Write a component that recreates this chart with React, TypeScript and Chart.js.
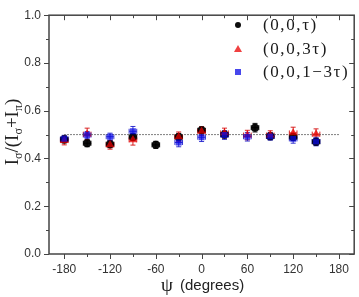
import React, { useEffect, useRef } from "react";
import { Chart, registerables } from "chart.js";
Chart.register(...registerables);

// ---- data ----
const tauPsi = [-180, -150, -120, -90, -60, -30, 0, 30, 70, 90, 120, 150];
const tauVals = [0.48, 0.464, 0.46, 0.49, 0.457, 0.49, 0.518, 0.5, 0.529, 0.493, 0.49, 0.47];
const tauErr = [0.015, 0.015, 0.015, 0.015, 0.015, 0.015, 0.015, 0.015, 0.018, 0.015, 0.015, 0.015];

const tau3Psi = [-180, -150, -120, -90, -30, 0, 30, 60, 90, 120, 150];
const tau3Vals = [0.475, 0.502, 0.457, 0.478, 0.491, 0.514, 0.507, 0.498, 0.498, 0.507, 0.502];
const tau3Err = [0.018, 0.025, 0.018, 0.022, 0.02, 0.018, 0.02, 0.02, 0.018, 0.024, 0.022];

const tau13Psi = [-180, -150, -120, -90, -30, 0, 30, 60, 90, 120, 150];
const tau13Vals = [0.482, 0.498, 0.491, 0.514, 0.467, 0.489, 0.498, 0.491, 0.492, 0.482, 0.471];
const tau13Err = [0.015, 0.015, 0.015, 0.02, 0.018, 0.018, 0.018, 0.018, 0.015, 0.018, 0.018];

const psiErr = 5;

const refPsi = [-180, 180];
const refVals = [0.5, 0.5];

const xTicks = [-180, -120, -60, 0, 60, 120, 180];
const xMinor = [-150, -90, -30, 30, 90, 150];
const yTicks = [0, 0.2, 0.4, 0.6, 0.8, 1.0];
const yMinor = [0.1, 0.3, 0.5, 0.7, 0.9];

const legendLabels = ["(0,0,\u03c4)", "(0,0,3\u03c4)", "(0,0,1\u22123\u03c4)"];

const BLACK = "rgba(0,0,0,0.95)";
const RED = "rgba(235,0,0,0.75)";
const BLUE = "rgba(10,10,230,0.75)";

function zip(xs: number[], ys: number[]) {
  return xs.map((x, i) => ({ x, y: ys[i] }));
}

const series = [
  { psi: tauPsi, vals: tauVals, err: tauErr, color: BLACK, bar: "#111" },
  { psi: tau3Psi, vals: tau3Vals, err: tau3Err, color: RED, bar: "rgba(210,0,0,0.85)" },
  { psi: tau13Psi, vals: tau13Vals, err: tau13Err, color: BLUE, bar: "rgba(20,20,200,0.85)" },
];

const decorPlugin = {
  id: "decor",
  beforeDatasetsDraw(chart: any) {
    const { ctx, scales } = chart;
    const xs = scales.x;
    const ys = scales.y;
    ctx.save();
    ctx.lineWidth = 1;
    series.forEach((s) => {
      ctx.strokeStyle = s.bar;
      s.psi.forEach((p, i) => {
        const px = xs.getPixelForValue(p);
        const py = ys.getPixelForValue(s.vals[i]);
        const y1 = ys.getPixelForValue(s.vals[i] + s.err[i]);
        const y2 = ys.getPixelForValue(s.vals[i] - s.err[i]);
        const x1 = xs.getPixelForValue(p - psiErr);
        const x2 = xs.getPixelForValue(p + psiErr);
        ctx.beginPath();
        ctx.moveTo(px, y1);
        ctx.lineTo(px, y2);
        ctx.moveTo(px - 2.5, y1);
        ctx.lineTo(px + 2.5, y1);
        ctx.moveTo(px - 2.5, y2);
        ctx.lineTo(px + 2.5, y2);
        ctx.moveTo(x1, py);
        ctx.lineTo(x2, py);
        ctx.moveTo(x1, py - 2.5);
        ctx.lineTo(x1, py + 2.5);
        ctx.moveTo(x2, py - 2.5);
        ctx.lineTo(x2, py + 2.5);
        ctx.stroke();
      });
    });
    ctx.restore();
  },
  afterDraw(chart: any) {
    const { ctx, chartArea, scales } = chart;
    const { left, right, top, bottom } = chartArea;
    const xs = scales.x;
    const ys = scales.y;
    ctx.save();
    ctx.strokeStyle = "#444";
    ctx.lineWidth = 1.5;
    ctx.strokeRect(left, top, right - left, bottom - top);
    ctx.lineWidth = 1;
    ctx.beginPath();
    yTicks.forEach((v) => {
      const y = Math.round(ys.getPixelForValue(v)) + 0.5;
      ctx.moveTo(left - 5, y);
      ctx.lineTo(left, y);
      ctx.moveTo(right, y);
      ctx.lineTo(right - 5, y);
    });
    yMinor.forEach((v) => {
      const y = Math.round(ys.getPixelForValue(v)) + 0.5;
      ctx.moveTo(left - 3, y);
      ctx.lineTo(left, y);
      ctx.moveTo(right, y);
      ctx.lineTo(right - 3, y);
    });
    xTicks.forEach((v) => {
      const x = Math.round(xs.getPixelForValue(v)) + 0.5;
      ctx.moveTo(x, bottom);
      ctx.lineTo(x, bottom + 5);
      ctx.moveTo(x, top);
      ctx.lineTo(x, top + 5);
    });
    xMinor.forEach((v) => {
      const x = Math.round(xs.getPixelForValue(v)) + 0.5;
      ctx.moveTo(x, bottom);
      ctx.lineTo(x, bottom + 3);
      ctx.moveTo(x, top);
      ctx.lineTo(x, top + 3);
    });
    ctx.stroke();

    // legend
    const lx = 238;
    const rows = [25, 49, 72];
    series.forEach((s, i) => {
      const y = rows[i];
      ctx.fillStyle = s.color;
      ctx.beginPath();
      if (i === 0) {
        ctx.arc(lx, y, 3, 0, Math.PI * 2);
      } else if (i === 1) {
        ctx.moveTo(lx, y - 4);
        ctx.lineTo(lx + 4, y + 3);
        ctx.lineTo(lx - 4, y + 3);
        ctx.closePath();
      } else {
        ctx.rect(lx - 3, y - 3, 6, 6);
      }
      ctx.fill();
      ctx.fillStyle = "#1a1a1a";
      ctx.font = '17px "Liberation Serif", "DejaVu Serif", serif';
      (ctx as any).letterSpacing = "1.6px";
      ctx.textBaseline = "middle";
      ctx.textAlign = "left";
      ctx.fillText(legendLabels[i], 263, y + 1);
    });
    (ctx as any).letterSpacing = "0px";

    // x title
    ctx.fillStyle = "#222";
    ctx.textBaseline = "alphabetic";
    ctx.font = '19px "Liberation Serif", serif';
    ctx.fillText("\u03c8", 161, 291);
    ctx.font = '15px "Liberation Sans", Arial, sans-serif';
    ctx.fillText("(degrees)", 180, 290);

    // y title (rotated)
    ctx.translate(18, 132);
    ctx.rotate(-Math.PI / 2);
    const parts: [string, boolean][] = [
      ["I", false], ["\u03c3", true], ["/(", false], ["I", false], ["\u03c3", true],
      ["+", false], ["I", false], ["\u03c0", true], [")", false],
    ];
    const big = '19px "Liberation Serif", serif';
    const small = '12px "Liberation Serif", serif';
    let total = 0;
    parts.forEach(([t, sub]) => {
      ctx.font = sub ? small : big;
      total += ctx.measureText(t).width;
    });
    let cx = -total / 2;
    parts.forEach(([t, sub]) => {
      ctx.font = sub ? small : big;
      ctx.fillText(t, cx, sub ? 4 : 0);
      cx += ctx.measureText(t).width;
    });
    ctx.restore();
  },
};

export default function App() {
  const ref = useRef<HTMLCanvasElement | null>(null);
  useEffect(() => {
    document.body.style.margin = "0";
    if (!ref.current) return;
    const pointStyles = ["circle", "triangle", "rect"];
    const radii = [4, 4.8, 4.2];
    const chart = new Chart(ref.current, {
      type: "scatter",
      data: {
        datasets: [
          ...series.map((s, i) => ({
            label: legendLabels[i],
            data: zip(s.psi, s.vals),
            backgroundColor: s.color,
            borderColor: s.color,
            borderWidth: 0,
            pointStyle: pointStyles[i] as any,
            pointRadius: radii[i],
            order: 2 - i,
          })),
          {
            label: "ref",
            type: "line" as const,
            data: zip(refPsi, refVals),
            borderColor: "#555",
            borderWidth: 1,
            borderDash: [1.5, 1.5],
            pointRadius: 0,
            fill: false,
            order: 5,
          },
        ],
      },
      options: {
        animation: false,
        responsive: false,
        events: [],
        layout: { padding: { top: 7, right: 3, left: 0, bottom: 0 } },
        plugins: { legend: { display: false }, tooltip: { enabled: false } },
        scales: {
          x: {
            type: "linear",
            min: -200,
            max: 200,
            afterBuildTicks: (s: any) => {
              s.ticks = xTicks.map((v) => ({ value: v }));
            },
            afterFit: (s: any) => {
              s.height = 43;
            },
            grid: { display: false, drawTicks: false },
            border: { display: false },
            ticks: {
              padding: 8,
              maxRotation: 0,
              color: "#333",
              font: { family: '"Liberation Sans", Arial, sans-serif', size: 12 },
            },
          },
          y: {
            type: "linear",
            min: 0,
            max: 1,
            afterBuildTicks: (s: any) => {
              s.ticks = yTicks.map((v) => ({ value: v }));
            },
            afterFit: (s: any) => {
              s.width = 49;
            },
            grid: { display: false, drawTicks: false },
            border: { display: false },
            ticks: {
              padding: 8,
              color: "#333",
              callback: (v: any) => Number(v).toFixed(1),
              font: { family: '"Liberation Sans", Arial, sans-serif', size: 12 },
            },
          },
        },
      },
      plugins: [decorPlugin],
    });
    return () => chart.destroy();
  }, []);
  return (
    <div style={{ width: 359, height: 297 }}>
      <canvas ref={ref} width={359} height={297} style={{ width: 359, height: 297, display: "block" }} />
    </div>
  );
}
